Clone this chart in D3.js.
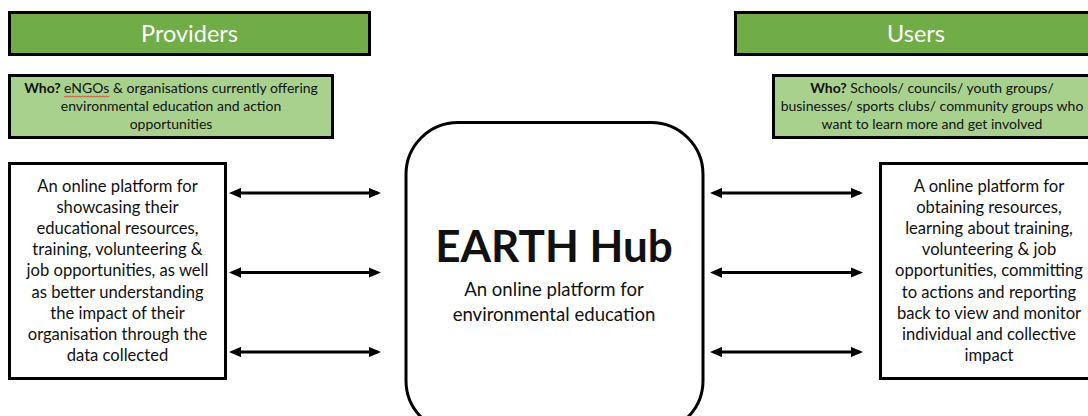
<!DOCTYPE html>
<html>
<head>
<meta charset="utf-8">
<script src="https://cdn.jsdelivr.net/npm/d3@7"></script>
<style>
  html, body { margin: 0; padding: 0; background: #fff; }
  svg { display: block; font-family: Lato, "Open Sans", sans-serif; }
</style>
</head>
<body>
<div id="chart"></div>
<script>
// diagram content
const sides = ["providers", "users"];
const headers = ["Providers", "Users"];
const whoLead = "Who?";
const whoLines = [
  ["eNGOs & organisations currently offering", "environmental education and action", "opportunities"],
  ["Schools/ councils/ youth groups/", "businesses/ sports clubs/ community groups who", "want to learn more and get involved"]
];
const descLines = [
  ["An online platform for", "showcasing their", "educational resources,", "training, volunteering &",
   "job opportunities, as well", "as better understanding", "the impact of their",
   "organisation through the", "data collected"],
  ["A online platform for", "obtaining resources,", "learning about training,", "volunteering & job",
   "opportunities, committing", "to actions and reporting", "back to view and monitor",
   "individual and collective", "impact"]
];
const hubTitle = "EARTH Hub";
const hubLines = ["An online platform for", "environmental education"];
const arrowRows = ["top", "middle", "bottom"];
const misspelt = "eNGOs";

const W = 1088, H = 416;
const C = { dark: "#70AD47", light: "#A9D18E", ink: "#000" };

const svg = d3.select("#chart").append("svg").attr("width", W).attr("height", H);

const defs = svg.append("defs");
["end", "start"].forEach(k => {
  defs.append("marker").attr("id", "head-" + k)
    .attr("viewBox", "0 0 12 10").attr("preserveAspectRatio", "none")
    .attr("refX", k === "end" ? 9 : 3).attr("refY", 5)
    .attr("markerWidth", 4.4).attr("markerHeight", 3.7).attr("markerUnits", "strokeWidth")
    .attr("orient", "auto-start-reverse")
    .append("path").attr("d", "M0,0L12,5L0,10Z").attr("fill", C.ink);
});

// layout per side
const layout = {
  providers: { head: [9.5, 12.5, 360, 42], who: [9.5, 75.5, 323, 62], box: [9.5, 163.5, 216, 215], arrow: [238, 378] },
  users:     { head: [735.5, 12.5, 362, 42], who: [773.5, 75.5, 320, 62], box: [880.5, 163.5, 218, 215], arrow: [719, 860] }
};

const rowY = d3.scalePoint().domain(arrowRows).range([193, 352]);

sides.forEach((s, i) => {
  const L = layout[s];
  const g = svg.append("g").attr("class", s);

  // header bar
  const [hx, hy, hw, hh] = L.head;
  g.append("rect").attr("x", hx).attr("y", hy).attr("width", hw).attr("height", hh)
    .attr("fill", C.dark).attr("stroke", C.ink).attr("stroke-width", 3);
  g.append("text").attr("x", s === "users" ? 916 : hx + hw / 2).attr("y", hy + hh / 2 + 8)
    .attr("text-anchor", "middle").attr("fill", "#fff").attr("font-size", 23.5)
    .text(headers[i]);

  // who box
  const [wx, wy, ww, wh] = L.who;
  g.append("rect").attr("x", wx).attr("y", wy).attr("width", ww).attr("height", wh)
    .attr("fill", C.light).attr("stroke", C.ink).attr("stroke-width", 3);
  const cx = s === "users" ? 932 : wx + ww / 2;
  whoLines[i].forEach((line, j) => {
    const t = g.append("text").attr("x", cx).attr("y", wy + 17.5 + j * 18.2)
      .attr("text-anchor", "middle").attr("font-size", 14).attr("fill", "#111");
    if (j === 0) {
      t.append("tspan").attr("font-weight", "bold").text(whoLead + " ");
      t.append("tspan").text(line);
      const full = whoLead + " " + line;
      const k = full.indexOf(misspelt);
      if (k >= 0) {
        const node = t.node();
        const x0 = node.getStartPositionOfChar(k).x;
        const x1 = node.getEndPositionOfChar(k + misspelt.length - 1).x;
        const y0 = wy + 20.5;
        const pts = d3.range(x0, x1, 1.5).map((x, n) => [x, y0 + (n % 2 ? 1 : 0)]);
        g.append("path").attr("d", d3.line()(pts)).attr("fill", "none")
          .attr("stroke", "#d22").attr("stroke-width", 0.8);
      }
    } else {
      t.text(line);
    }
  });

  // description box
  const [bx, by, bw, bh] = L.box;
  g.append("rect").attr("x", bx).attr("y", by).attr("width", bw).attr("height", bh)
    .attr("fill", "#fff").attr("stroke", C.ink).attr("stroke-width", 3);
  const tx = s === "users" ? 989 : bx + bw / 2;
  g.selectAll("text.desc").data(descLines[i]).enter().append("text")
    .attr("class", "desc").attr("x", tx).attr("y", (d, j) => 192 + j * 21.1)
    .attr("text-anchor", "middle").attr("font-size", 16.6).attr("fill", "#111")
    .text(d => d);

  // double-headed arrows
  g.selectAll("line.arrow").data(arrowRows).enter().append("line")
    .attr("class", "arrow")
    .attr("x1", L.arrow[0]).attr("x2", L.arrow[1])
    .attr("y1", d => rowY(d)).attr("y2", d => rowY(d))
    .attr("stroke", C.ink).attr("stroke-width", 2.8)
    .attr("marker-start", "url(#head-start)").attr("marker-end", "url(#head-end)");
});

// central hub
const hub = svg.append("g").attr("class", "hub");
hub.append("rect").attr("x", 406).attr("y", 122.5).attr("width", 297).attr("height", 310)
  .attr("rx", 52).attr("ry", 52)
  .attr("fill", "#fff").attr("stroke", C.ink).attr("stroke-width", 3);
hub.append("text").attr("x", 554).attr("y", 262).attr("text-anchor", "middle")
  .attr("font-size", 44).attr("font-weight", "bold").attr("fill", "#111").text(hubTitle);
hub.selectAll("text.sub").data(hubLines).enter().append("text")
  .attr("class", "sub").attr("x", 554).attr("y", (d, j) => 296 + j * 25)
  .attr("text-anchor", "middle").attr("font-size", 18.6).attr("fill", "#111")
  .text(d => d);
</script>
</body>
</html>
